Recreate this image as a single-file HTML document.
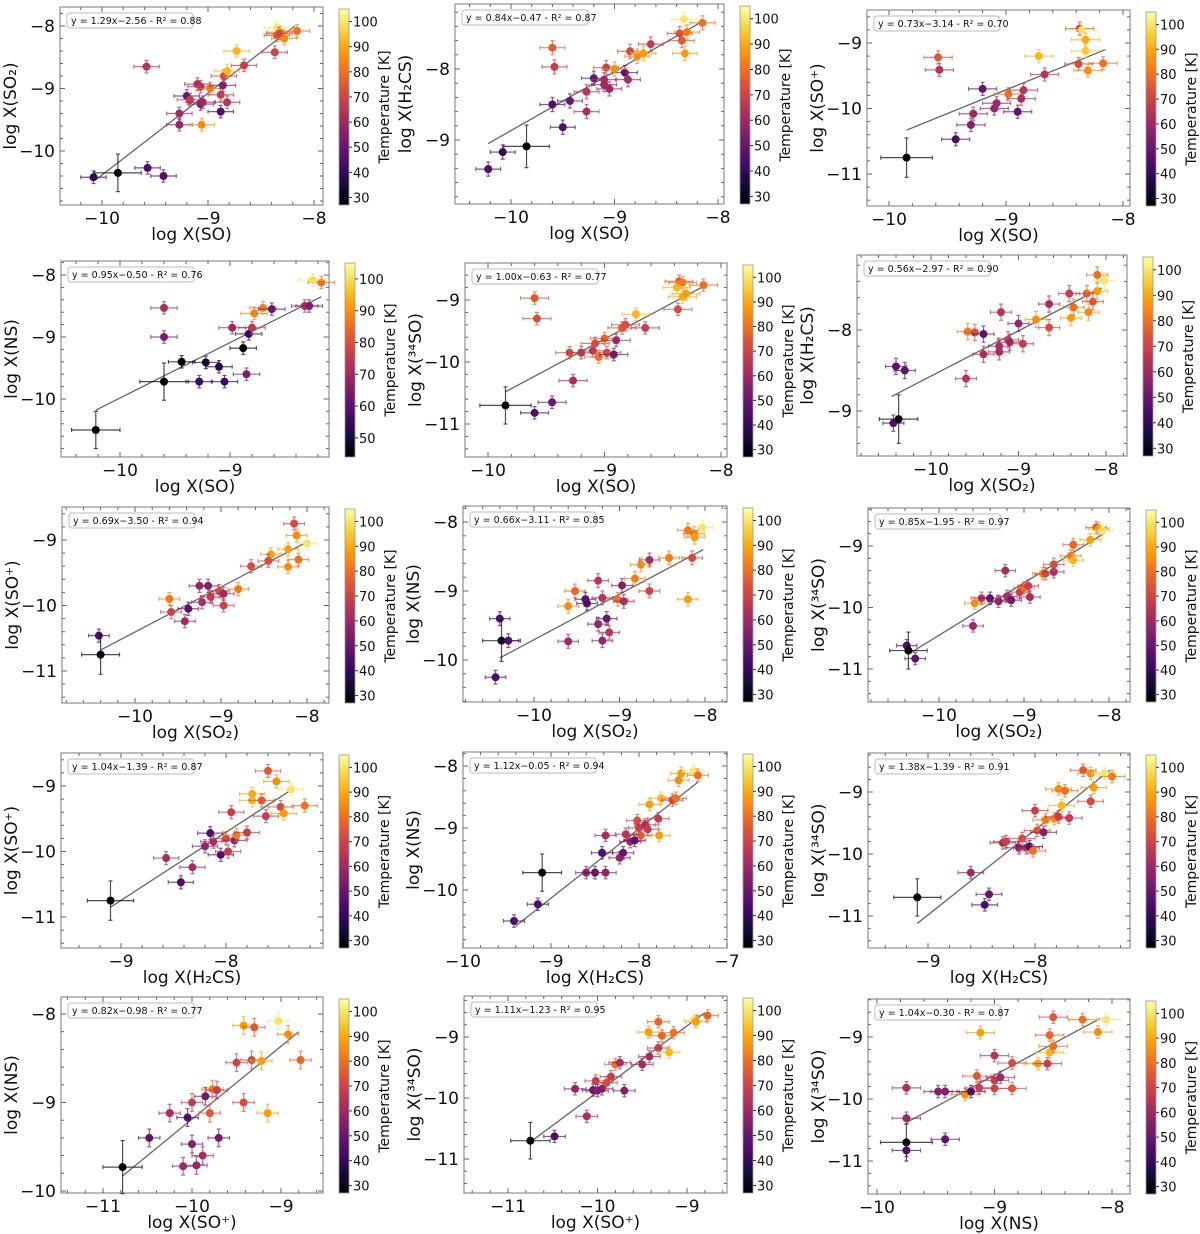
<!DOCTYPE html>
<html><head><meta charset="utf-8">
<style>
body{margin:0;background:#fff;}
svg{display:block;font-family:"DejaVu Sans","Liberation Sans",sans-serif;}
</style></head>
<body>
<svg id="fig" width="1200" height="1234" viewBox="0 0 1200 1234" xmlns="http://www.w3.org/2000/svg">
<defs>
<linearGradient id="inferno" x1="0" y1="1" x2="0" y2="0">
<stop offset="0" stop-color="#000004"/><stop offset="0.1" stop-color="#160b39"/><stop offset="0.2" stop-color="#420a68"/><stop offset="0.3" stop-color="#6a176e"/><stop offset="0.4" stop-color="#932667"/><stop offset="0.5" stop-color="#bc3754"/><stop offset="0.6" stop-color="#dd513a"/><stop offset="0.7" stop-color="#f37819"/><stop offset="0.8" stop-color="#fca50a"/><stop offset="0.9" stop-color="#f6d746"/><stop offset="1" stop-color="#fcffa4"/>
</linearGradient>
</defs>
</svg>
<script>
// ---- data: each point = [logX, logY, temperature]
const p1 = [[-10.08,-10.42,40],[-9.85,-10.35,28],[-9.57,-10.27,45],[-9.42,-10.4,45],[-9.58,-8.65,65],[-9.27,-9.4,60],[-9.27,-9.58,58],[-9.2,-9.12,50],[-9.17,-9.18,68],[-9.1,-8.93,62],[-9.07,-8.97,65],[-9.07,-9.25,55],[-9.05,-9.22,60],[-8.98,-9.0,82],[-9.06,-9.58,85],[-8.88,-9.1,68],[-8.86,-8.95,55],[-8.88,-9.37,45],[-8.82,-9.22,65],[-8.85,-8.8,72],[-8.82,-8.72,92],[-8.73,-8.4,92],[-8.66,-8.63,68],[-8.37,-8.42,70],[-8.35,-8.15,75],[-8.32,-8.1,85],[-8.28,-8.2,85],[-8.16,-8.08,80],[-8.35,-8.03,100],[-8.33,-8.12,72]];
const p2 = [[-10.22,-9.41,45],[-10.08,-9.17,40],[-9.85,-9.09,28],[-9.6,-8.5,45],[-9.5,-8.82,45],[-9.43,-8.45,50],[-9.6,-7.7,76],[-9.58,-7.97,68],[-9.27,-8.6,62],[-9.27,-8.32,65],[-9.2,-8.13,50],[-9.1,-8.15,62],[-9.05,-8.28,60],[-9.08,-7.98,70],[-8.9,-8.05,48],[-8.87,-8.15,62],[-8.85,-7.75,72],[-9.0,-8.0,85],[-8.78,-7.82,85],[-8.65,-7.65,68],[-8.72,-7.78,88],[-8.37,-7.5,72],[-8.32,-7.78,88],[-8.3,-7.48,82],[-8.35,-7.6,75],[-8.15,-7.35,80],[-8.33,-7.3,100],[-9.1,-8.22,60]];
const p3 = [[-9.85,-10.75,28],[-9.58,-9.22,75],[-9.57,-9.41,65],[-9.43,-10.47,45],[-9.3,-10.25,55],[-9.28,-10.08,60],[-9.2,-9.7,50],[-9.1,-10.0,58],[-9.08,-9.92,60],[-8.98,-9.78,80],[-8.9,-10.05,48],[-8.87,-9.85,62],[-8.85,-9.72,65],[-8.72,-9.2,92],[-8.67,-9.48,65],[-8.37,-8.78,72],[-8.32,-8.95,90],[-8.32,-9.12,95],[-8.38,-9.32,72],[-8.3,-9.42,85],[-8.17,-9.31,80],[-8.35,-8.8,100]];
const p4 = [[-10.22,-10.5,28],[-9.6,-9.72,30],[-9.44,-9.4,32],[-9.6,-8.53,72],[-9.6,-9.0,65],[-9.28,-9.72,55],[-9.22,-9.41,50],[-9.1,-9.48,52],[-9.05,-9.72,55],[-8.98,-8.85,70],[-8.88,-9.18,35],[-8.85,-9.6,65],[-8.83,-8.95,55],[-8.8,-8.85,75],[-8.78,-8.62,88],[-8.7,-8.53,88],[-8.62,-8.55,62],[-8.32,-8.5,72],[-8.28,-8.5,65],[-8.17,-8.12,85],[-8.25,-8.08,100]];
const p5 = [[-9.85,-10.7,28],[-9.6,-10.82,45],[-9.45,-10.65,50],[-9.6,-8.97,75],[-9.58,-9.3,72],[-9.27,-10.3,62],[-9.3,-9.85,72],[-9.2,-9.85,65],[-9.1,-9.82,65],[-9.08,-9.7,72],[-9.05,-9.92,80],[-9.0,-9.62,78],[-8.98,-9.85,72],[-8.92,-9.88,52],[-8.9,-9.65,60],[-8.85,-9.45,75],[-8.82,-9.4,72],[-8.73,-9.23,92],[-8.65,-9.45,68],[-8.37,-9.15,72],[-8.33,-8.95,90],[-8.36,-8.7,75],[-8.33,-8.72,82],[-8.3,-8.9,88],[-8.15,-8.76,80],[-8.38,-8.8,92]];
const p6 = [[-10.43,-9.15,45],[-10.37,-9.1,28],[-10.4,-8.45,48],[-10.3,-8.5,48],[-9.6,-8.6,65],[-9.58,-8.02,82],[-9.5,-8.03,72],[-9.4,-8.05,48],[-9.4,-8.3,62],[-9.22,-8.2,62],[-9.2,-7.78,65],[-9.22,-8.27,62],[-9.12,-8.12,70],[-9.1,-8.15,60],[-9.0,-7.92,58],[-8.95,-8.17,68],[-8.8,-7.87,85],[-8.65,-7.68,62],[-8.65,-7.97,72],[-8.4,-7.85,88],[-8.42,-7.55,68],[-8.37,-7.72,80],[-8.22,-7.55,75],[-8.2,-7.78,85],[-8.15,-7.65,75],[-8.1,-7.32,80],[-8.1,-7.52,88],[-8.02,-7.39,100]];
const p7 = [[-10.42,-10.46,45],[-10.4,-10.75,28],[-9.6,-9.9,82],[-9.58,-10.1,70],[-9.42,-10.24,60],[-9.38,-10.05,48],[-9.25,-9.7,60],[-9.22,-9.95,62],[-9.15,-9.7,55],[-9.12,-9.87,68],[-9.02,-9.78,72],[-8.97,-9.82,60],[-8.97,-10.0,70],[-8.8,-9.75,82],[-8.65,-9.4,72],[-8.42,-9.22,88],[-8.45,-9.32,72],[-8.22,-9.14,88],[-8.22,-9.41,85],[-8.15,-8.75,72],[-8.12,-8.93,85],[-8.1,-9.3,80],[-8.0,-9.05,100]];
const p8 = [[-10.45,-10.25,45],[-10.4,-9.4,45],[-10.38,-9.72,28],[-10.3,-9.72,45],[-9.6,-9.22,85],[-9.6,-9.73,60],[-9.52,-9.0,78],[-9.4,-9.12,48],[-9.38,-9.18,45],[-9.25,-9.48,58],[-9.25,-8.85,65],[-9.2,-9.72,58],[-9.2,-9.1,65],[-9.15,-9.4,50],[-9.12,-9.6,65],[-9.02,-9.12,80],[-8.97,-8.92,55],[-8.95,-9.15,62],[-8.82,-8.82,82],[-8.75,-8.62,85],[-8.65,-8.55,62],[-8.65,-9.0,70],[-8.42,-8.52,82],[-8.2,-9.12,88],[-8.2,-8.12,82],[-8.15,-8.52,72],[-8.13,-8.17,80],[-8.12,-8.22,88],[-8.03,-8.08,100]];
const p9 = [[-10.38,-10.62,45],[-10.36,-10.7,28],[-10.28,-10.83,48],[-9.6,-10.3,60],[-9.58,-9.93,85],[-9.5,-9.85,68],[-9.4,-9.85,48],[-9.3,-9.9,58],[-9.22,-9.4,62],[-9.2,-9.82,62],[-9.15,-9.88,52],[-9.05,-9.75,68],[-9.0,-9.68,80],[-8.95,-9.65,68],[-8.93,-9.83,62],[-8.78,-9.45,85],[-8.75,-9.45,72],[-8.65,-9.42,62],[-8.65,-9.3,72],[-8.45,-9.16,82],[-8.42,-9.23,92],[-8.42,-8.98,78],[-8.22,-8.9,88],[-8.15,-8.7,75],[-8.12,-8.72,88],[-8.08,-8.75,100]];
const p10 = [[-9.1,-10.75,28],[-8.57,-10.1,62],[-8.43,-10.47,45],[-8.32,-10.24,62],[-8.2,-9.92,58],[-8.15,-9.72,45],[-8.12,-9.85,62],[-8.05,-10.05,45],[-8.0,-9.8,72],[-7.98,-10.0,68],[-7.95,-9.4,68],[-7.92,-9.83,58],[-7.9,-9.75,82],[-7.8,-9.71,68],[-7.75,-9.12,90],[-7.75,-9.22,92],[-7.66,-9.22,75],[-7.62,-9.46,68],[-7.6,-8.77,75],[-7.52,-8.93,85],[-7.48,-9.32,72],[-7.45,-9.42,88],[-7.38,-9.05,100],[-7.25,-9.3,80]];
const p11 = [[-9.42,-10.5,45],[-9.15,-10.23,45],[-9.1,-9.72,28],[-8.6,-9.72,58],[-8.5,-9.72,48],[-8.42,-9.4,45],[-8.38,-9.72,58],[-8.38,-9.12,62],[-8.22,-9.48,58],[-8.18,-9.4,50],[-8.15,-9.1,65],[-8.1,-9.22,60],[-8.05,-9.2,48],[-8.02,-8.88,72],[-8.0,-9.0,68],[-7.98,-9.12,75],[-7.93,-8.95,62],[-7.9,-9.02,68],[-7.88,-8.62,88],[-7.78,-8.85,68],[-7.77,-9.12,88],[-7.75,-8.52,92],[-7.62,-8.55,68],[-7.58,-8.52,80],[-7.55,-8.23,85],[-7.52,-8.12,88],[-7.38,-8.08,100],[-7.33,-8.15,80]];
const p12 = [[-9.1,-10.7,28],[-8.6,-10.3,60],[-8.47,-10.82,45],[-8.43,-10.65,50],[-8.3,-9.82,62],[-8.27,-9.8,68],[-8.15,-9.9,58],[-8.12,-9.75,72],[-8.08,-9.9,62],[-8.05,-9.88,45],[-8.02,-9.95,80],[-8.0,-9.3,68],[-7.98,-9.62,75],[-7.92,-9.65,55],[-7.9,-9.45,82],[-7.82,-9.43,85],[-7.78,-9.4,68],[-7.75,-9.22,92],[-7.68,-9.42,68],[-7.78,-8.95,85],[-7.72,-8.98,80],[-7.55,-8.65,75],[-7.48,-8.7,85],[-7.48,-9.15,72],[-7.45,-8.93,88],[-7.35,-8.7,100],[-7.28,-8.75,82]];
const p13 = [[-10.78,-9.73,28],[-10.48,-9.4,48],[-10.25,-9.12,62],[-10.1,-9.72,60],[-10.05,-9.17,45],[-10.0,-9.47,55],[-10.0,-9.0,68],[-9.95,-9.71,58],[-9.88,-9.6,62],[-9.85,-8.93,52],[-9.8,-9.12,75],[-9.77,-8.85,82],[-9.72,-8.86,68],[-9.7,-9.4,52],[-9.5,-8.55,70],[-9.42,-9.0,72],[-9.42,-8.13,88],[-9.33,-8.52,72],[-9.3,-8.15,75],[-9.22,-8.53,88],[-9.15,-9.12,88],[-9.03,-8.08,100],[-8.92,-8.23,85],[-8.78,-8.52,78]];
const p14 = [[-10.75,-10.7,28],[-10.48,-10.63,45],[-10.25,-9.85,58],[-10.12,-10.3,62],[-10.05,-9.87,48],[-10.02,-9.72,68],[-10.0,-9.88,55],[-9.95,-9.85,55],[-9.9,-9.75,72],[-9.85,-9.65,68],[-9.8,-9.45,80],[-9.75,-9.42,62],[-9.7,-9.88,55],[-9.5,-9.45,62],[-9.42,-9.32,62],[-9.43,-8.92,88],[-9.32,-8.75,78],[-9.32,-9.18,68],[-9.28,-8.98,78],[-9.2,-9.25,92],[-9.15,-8.93,80],[-8.92,-8.72,100],[-8.9,-8.75,88],[-8.77,-8.65,78]];
const p15 = [[-9.75,-10.7,28],[-9.75,-10.83,45],[-9.75,-10.31,60],[-9.75,-9.82,62],[-9.48,-9.88,55],[-9.42,-9.88,55],[-9.42,-10.65,48],[-9.25,-9.93,85],[-9.2,-9.88,45],[-9.15,-9.63,75],[-9.13,-9.82,68],[-9.12,-8.93,88],[-9.0,-9.3,65],[-9.0,-9.7,68],[-9.0,-9.83,70],[-8.95,-9.65,60],[-8.85,-9.42,72],[-8.85,-9.83,75],[-8.63,-9.43,88],[-8.55,-9.43,68],[-8.53,-9.25,92],[-8.53,-8.97,78],[-8.5,-9.15,80],[-8.5,-8.68,75],[-8.25,-8.72,80],[-8.12,-8.92,85],[-8.05,-8.72,100]];
// fit line endpoints as drawn [x1, y1, x2, y2]
const fits = [[-10.05,-10.45,-8.18,-8.0],[-10.22,-9.05,-8.15,-7.33],[-9.85,-10.33,-8.15,-9.1],[-10.22,-10.18,-8.17,-8.35],[-9.85,-10.48,-8.15,-8.78],[-10.45,-8.82,-8.05,-7.48],[-10.4,-10.68,-8.0,-9.03],[-10.4,-9.97,-8.02,-8.4],[-10.35,-10.75,-8.05,-8.79],[-9.1,-10.85,-7.35,-9.03],[-9.4,-10.58,-7.33,-8.26],[-9.1,-11.12,-7.3,-8.65],[-10.78,-9.83,-8.8,-8.2],[-10.75,-10.72,-8.8,-8.6],[-9.75,-10.38,-8.1,-8.7]];
const fitLabels = ["y = 1.29x−2.56 - R² = 0.88","y = 0.84x−0.47 - R² = 0.87","y = 0.73x−3.14 - R² = 0.70","y = 0.95x−0.50 - R² = 0.76","y = 1.00x−0.63 - R² = 0.77","y = 0.56x−2.97 - R² = 0.90","y = 0.69x−3.50 - R² = 0.94","y = 0.66x−3.11 - R² = 0.85","y = 0.85x−1.95 - R² = 0.97","y = 1.04x−1.39 - R² = 0.87","y = 1.12x−0.05 - R² = 0.94","y = 1.38x−1.39 - R² = 0.91","y = 0.82x−0.98 - R² = 0.77","y = 1.11x−1.23 - R² = 0.95","y = 1.04x−0.30 - R² = 0.87"];
const xLabels = ["log X(SO)","log X(SO)","log X(SO)","log X(SO)","log X(SO)","log X(SO₂)","log X(SO₂)","log X(SO₂)","log X(SO₂)","log X(H₂CS)","log X(H₂CS)","log X(H₂CS)","log X(SO⁺)","log X(SO⁺)","log X(NS)"];
const yLabels = ["log X(SO₂)","log X(H₂CS)","log X(SO⁺)","log X(NS)","log X(³⁴SO)","log X(H₂CS)","log X(SO⁺)","log X(NS)","log X(³⁴SO)","log X(SO⁺)","log X(NS)","log X(³⁴SO)","log X(NS)","log X(³⁴SO)","log X(³⁴SO)"];
const xTicks = [[-10,-9,-8],[-10,-9,-8],[-10,-9,-8],[-10,-9],[-10,-9,-8],[-10,-9,-8],[-10,-9,-8],[-10,-9,-8],[-10,-9,-8],[-9,-8],[-10,-9,-8,-7],[-9,-8],[-11,-10,-9],[-11,-10,-9],[-10,-9,-8]];
const yTicks = [[-8,-9,-10],[-8,-9],[-9,-10,-11],[-8,-9,-10],[-9,-10,-11],[-8,-9],[-9,-10,-11],[-8,-9,-10],[-9,-10,-11],[-9,-10,-11],[-8,-9,-10],[-9,-10,-11],[-8,-9,-10],[-9,-10,-11],[-9,-10,-11]];
const cbTicks = [30,40,50,60,70,80,90,100];
const cbRanges = [[27,105],[27,105],[27,105],[44,105],[27,105],[27,105],[27,105],[27,105],[27,105],[27,105],[27,105],[27,105],[27,105],[27,105],[27,105]];
const series = [p1,p2,p3,p4,p5,p6,p7,p8,p9,p10,p11,p12,p13,p14,p15];

// ---- layout (pixel geometry)
const geo = [
 {b:[60,323,7,205],xc:[-10,102,-8,314],yc:[-8,26,-10,151]},
 {b:[455,724,4,204],xc:[-10,511,-8,718],yc:[-8,69,-9,140]},
 {b:[867,1130,10,206],xc:[-10,889,-8,1123],yc:[-9,43,-11,174]},
 {b:[61,329,261,457],xc:[-10,120,-9,230],yc:[-8,275,-10,399]},
 {b:[465,727,263,457],xc:[-10,488,-8,721],yc:[-9,300,-11,424]},
 {b:[857,1127,255,456],xc:[-10,931,-8,1106],yc:[-8,330,-9,411]},
 {b:[62,329,507,703],xc:[-10,135,-8,307],yc:[-9,540,-11,671]},
 {b:[463,727,506,702],xc:[-10,534,-8,705],yc:[-8,522,-10,660]},
 {b:[868,1130,508,702],xc:[-10,939,-8,1109],yc:[-9,546,-11,669]},
 {b:[61,323,753,948],xc:[-9,121,-8,226],yc:[-9,786,-11,917]},
 {b:[463,727,752,948],xc:[-10,463,-7,727],yc:[-8,766,-10,890]},
 {b:[868,1130,753,948],xc:[-9,928,-8,1035],yc:[-9,792,-11,916]},
 {b:[61,323,997,1193],xc:[-11,103,-9,281],yc:[-8,1014,-10,1191]},
 {b:[464,727,996,1193],xc:[-11,508,-9,687],yc:[-9,1037,-11,1159]},
 {b:[868,1130,999,1194],xc:[-10,877,-8,1112],yc:[-9,1037,-11,1161]}
];
const stops=[[0,0,0,4],[0.1,22,11,57],[0.2,66,10,104],[0.3,106,23,110],[0.4,147,38,103],[0.5,188,55,84],[0.6,221,81,58],[0.7,243,120,25],[0.8,252,165,10],[0.9,246,215,70],[1,252,255,164]];
function inferno(t){t=Math.max(0,Math.min(1,t));for(let i=1;i<stops.length;i++){if(t<=stops[i][0]){const a=stops[i-1],b=stops[i],f=(t-a[0])/(b[0]-a[0]);return `rgb(${Math.round(a[1]+(b[1]-a[1])*f)},${Math.round(a[2]+(b[2]-a[2])*f)},${Math.round(a[3]+(b[3]-a[3])*f)})`;}}return 'rgb(252,255,164)';}
const NS='http://www.w3.org/2000/svg';
const svg=document.getElementById('fig');
function mk(tag,attrs,parent){const e=document.createElementNS(NS,tag);for(const k in attrs)e.setAttribute(k,attrs[k]);(parent||svg).appendChild(e);return e;}
const fmt=v=>(v<0?'−':'')+Math.abs(v);

series.forEach((pts,i)=>{
  const g=geo[i],[L,R,T,B]=g.b;
  const sx=v=>g.xc[1]+(v-g.xc[0])*(g.xc[3]-g.xc[1])/(g.xc[2]-g.xc[0]);
  const sy=v=>g.yc[1]+(v-g.yc[0])*(g.yc[3]-g.yc[1])/(g.yc[2]-g.yc[0]);
  const ux=Math.abs((g.xc[3]-g.xc[1])/(g.xc[2]-g.xc[0])), uy=Math.abs((g.yc[3]-g.yc[1])/(g.yc[2]-g.yc[0]));
  const grp=mk('g',{});
  
  
  const frame=mk('rect',{x:L,y:T,width:R-L,height:B-T,fill:'none',stroke:'#999','stroke-width':1.3},grp);
  
  
  const x0=g.xc[0]+(L-g.xc[1])/ux, x1=g.xc[0]+(R-g.xc[1])/ux;
  for(let v=Math.ceil(x0*5)/5; v<=x1; v=Math.round((v+0.2)*10)/10){const px=sx(v);const major=Math.abs(v-Math.round(v))<1e-6;const len=major?5:3;
    mk('line',{x1:px,y1:B,x2:px,y2:B-len,stroke:'#666'},grp);mk('line',{x1:px,y1:T,x2:px,y2:T+len,stroke:'#666'},grp);}
  const yA=g.yc[0]-(T-g.yc[1])/uy, yB=g.yc[0]-(B-g.yc[1])/uy;
  for(let v=Math.ceil(yB*5)/5; v<=yA; v=Math.round((v+0.2)*10)/10){const py=sy(v);const major=Math.abs(v-Math.round(v))<1e-6;const len=major?5:3;
    mk('line',{x1:L,y1:py,x2:L+len,y2:py,stroke:'#666'},grp);mk('line',{x1:R,y1:py,x2:R-len,y2:py,stroke:'#666'},grp);}
  xTicks[i].forEach(v=>{const t=mk('text',{x:sx(v),y:B+19,'font-size':17,'text-anchor':'middle',fill:'#111'},grp);t.textContent=fmt(v);
    
    });
  yTicks[i].forEach(v=>{const t=mk('text',{x:L-5,y:sy(v)+6,'font-size':17,'text-anchor':'end',fill:'#111'},grp);t.textContent=fmt(v);
    
    });
  const xl=mk('text',{x:(L+R)/2,y:B+35,'font-size':17,'text-anchor':'middle',fill:'#111'},grp);xl.textContent=xLabels[i];
  
  
  const ycx=L-44, ycy=(T+B)/2;
  const yl=mk('text',{x:ycx,y:ycy,'font-size':17,'text-anchor':'middle',fill:'#111',transform:`rotate(-90 ${ycx} ${ycy})`},grp);yl.textContent=yLabels[i];
  
  
  const f=fits[i];
  const fl=mk('line',{x1:sx(f[0]),y1:sy(f[1]),x2:sx(f[2]),y2:sy(f[3]),stroke:'#666','stroke-width':1.3},grp);
  
  
  const [cmin,cmax]=cbRanges[i];
  pts.forEach(p=>{
    const col=inferno((p[2]-cmin)/(cmax-cmin));
    const black=p[2]<32;
    const ex=(black?0.22:0.12)*ux, ey=(black?0.3:0.1)*uy;
    const cx=sx(p[0]), cy=sy(p[1]);
    const eg=mk('g',{stroke:col,'stroke-width':1.2,opacity:0.7},grp);
    
    
    mk('line',{x1:cx-ex,y1:cy,x2:cx+ex,y2:cy},eg);mk('line',{x1:cx,y1:cy-ey,x2:cx,y2:cy+ey},eg);
    mk('line',{x1:cx-ex,y1:cy-2,x2:cx-ex,y2:cy+2},eg);mk('line',{x1:cx+ex,y1:cy-2,x2:cx+ex,y2:cy+2},eg);
    mk('line',{x1:cx-2,y1:cy-ey,x2:cx+2,y2:cy-ey},eg);mk('line',{x1:cx-2,y1:cy+ey,x2:cx+2,y2:cy+ey},eg);
    const c=mk('circle',{cx:cx,cy:cy,r:4,fill:col},grp);
    
    
  });
  const lb=mk('rect',{x:L+7,y:T+6,width:126,height:15,rx:3,fill:'#fff',stroke:'#bbb'},grp);
  
  
  const lt=mk('text',{x:L+11,y:T+17,'font-size':9.5,fill:'#111'},grp);lt.textContent=fitLabels[i];
  
  
  const cbx=R+16, cbT=T+2, cbB=B;
  const cb=mk('rect',{x:cbx,y:cbT,width:10,height:cbB-cbT,fill:'url(#inferno)',stroke:'#999','stroke-width':0.8},grp);
  
  
  cbTicks.forEach(v=>{if(v<cmin||v>cmax)return;const py=cbB-(v-cmin)/(cmax-cmin)*(cbB-cbT);
    mk('line',{x1:cbx+10,y1:py,x2:cbx+13,y2:py,stroke:'#333'},grp);
    const t=mk('text',{x:cbx+14,y:py+5,'font-size':13,fill:'#111'},grp);t.textContent=v;
    
    });
  const tx=cbx+50, ty=(cbT+cbB)/2;
  const ct=mk('text',{x:tx,y:ty,'font-size':14,'text-anchor':'middle',fill:'#111',transform:`rotate(-90 ${tx} ${ty})`},grp);ct.textContent='Temperature [K]';
  
  
});
</script>
</body></html>
